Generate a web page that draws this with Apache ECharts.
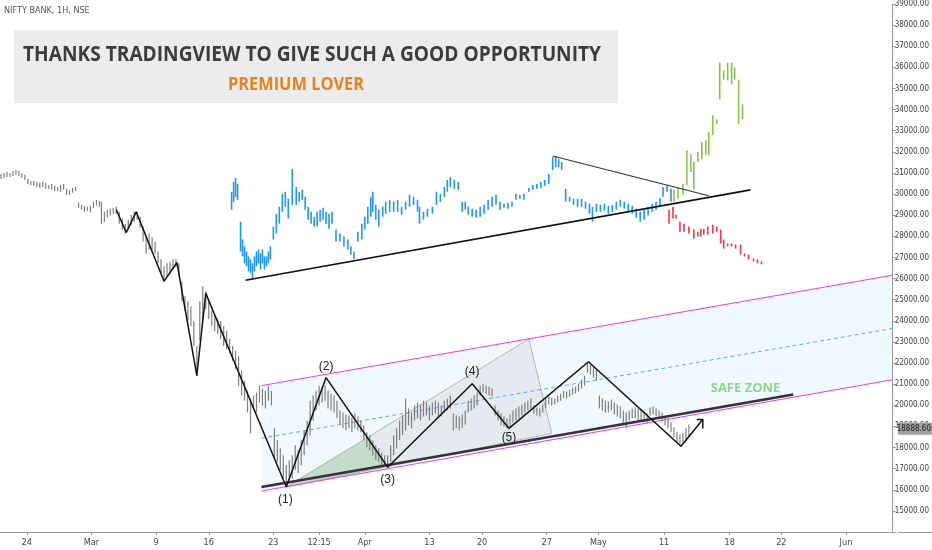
<!DOCTYPE html>
<html><head><meta charset="utf-8">
<script src="https://cdn.jsdelivr.net/npm/echarts@6/dist/echarts.min.js"></script>
<style>html,body{margin:0;padding:0;background:#fff}#c{width:932px;height:550px}</style>
</head><body><div id="c"></div>
<script>
// ---- time axis ticks (time index) ----
const tickPos = [27, 92, 157, 210, 275, 321, 367, 432, 485, 550, 602, 668, 734, 786, 851];
const tickLabels = ['24','Mar','9','16','23','12:15','Apr','13','20','27','May','11','18','22','Jun'];
const lastPrice = 18888.60;

// ---- NIFTY BANK 1H bars: [time, high, low] ----
const greyBars = [
[1,30950,30720],[4,31000,30770],[7,31050,30810],[10,31000,30810],[13,31090,30860],[16,31140,30910],[19,31090,30860],[22,31000,30770],[25,30910,30670],
[28,30720,30480],[31,30620,30430],[34,30620,30390],[37,30580,30340],[40,30530,30290],[43,30580,30340],[46,30530,30250],[49,30430,30250],[52,30480,30200],
[55,30390,30150],[58,30340,30150],[61,30430,30110],[64,30480,30200],[67,30250,29960],[70,30200,29960],[73,30290,30060],[76,30340,30150],
[79,29590,29350],[82,29490,29260],[85,29450,29160],[88,29400,29210],[91,29450,29120],[94,29640,29350],[97,29730,29450],[100,29680,29400],
[102,29640,28600],[105,29160,28690],[108,29260,28880],[111,29310,28980],[114,29350,29070],[117,29400,29070],[120,29160,28600],[123,28830,28320],
[126,28600,28130],[129,28790,28320],[132,29020,28510],[135,29160,28690],[138,29160,28790],[141,28930,28410],[144,28460,27750],[147,27990,27190],
[150,28130,27380],[153,27940,27380],[156,27750,27190],[159,27280,26720],[162,26910,26250],[165,26580,25870],[168,26720,26110],[171,26810,26250],
[174,26910,26440],[177,26910,26530],[180,26720,26110],[183,25870,24930],[186,25160,24460],[189,24930,23990],[192,24690,23750],[195,23990,22810],
[198,22810,21400],[201,24930,23050],[204,25640,23990],[207,25400,24550],[210,24930,24080],[213,24460,23750],[216,24220,23520],[219,24080,23380],
[222,23990,23140],[225,23750,22810],[228,23520,22670],[231,23140,22480],[234,22810,22110],[237,22580,21730],[240,22340,20930],[243,21640,20460],
[246,21160,20220],[249,20690,19660],[252,20320,18670],[255,20460,19750],[258,20600,19660],[261,20930,20130],[264,20790,19990],[267,20690,19850],
[270,20930,20220],[273,20690,19990],[276,18910,17490],[279,18340,17310],[282,17960,16930],[285,17630,16550],[288,17160,16130],[291,17400,16460],
[294,17630,16550],[297,18110,16930],[300,17870,16790],[303,18340,17160],[306,18810,17630],[309,19280,18110],[312,20220,18580],[315,20460,19280],
[318,20690,19750],[321,20930,19990],[324,20830,20130],[327,20930,20220],[330,20690,19850],[333,20550,19750],[336,20460,19660],[339,20220,19380],
[342,19750,19050],[345,19660,18910],[348,19560,18810],[351,19520,18910],[354,19420,18720],[357,19610,18910],[360,19470,18810],[363,19280,18720],
[366,19050,18340],[369,18720,18010],[372,18580,17870],[375,18340,17630],[378,18110,17400],[381,17960,17310],[384,17770,17120],[387,17630,17120],
[390,17630,17070],[393,18110,17310],[396,18580,17630],[399,18910,17960],[402,19280,18340],[405,19520,18580],[408,20320,18810],[411,19850,19050],
[414,19660,18910],[417,19990,19280],[420,20130,19380],[423,20040,19280],[426,20220,19470],[429,20130,19520],[432,19990,19280],[435,20130,19520],
[438,20220,19610],[441,20130,19380],[444,19990,19470],[447,20220,19660],[450,20320,19750],[453,20460,19850],[456,19610,18810],[459,19520,18910],
[462,19470,18810],[465,19560,18910],[468,19750,19090],[471,20220,19660],[474,20320,19750],[477,20460,19850],[480,20600,19990],[483,20930,20460],
[486,21020,20600],[489,20930,20550],[492,20880,20460],[495,20790,20410],[498,19990,19520],[501,19750,19280],[504,19610,19050],[507,19470,19000],
[510,19380,18910],[513,19560,19000],[516,19750,19190],[519,19850,19280],[522,19940,19380],[525,20040,19520],[528,20130,19660],[531,20220,19750],
[534,20320,19850],[537,19990,19610],[540,19890,19520],[543,19850,19470],[546,20040,19660],[549,20320,19850],[552,20410,20040],[555,20360,19990],
[558,20320,20040],[561,20460,20130],[564,20550,20220],[567,20690,20360],[570,20650,20320],[573,20740,20410],[576,20830,20500],[579,20880,20550],
[582,21020,20650],[585,21210,20790],[588,21400,20930],[591,22010,21540],[594,21920,21450],[597,21820,21310],[600,21730,21160],[603,20460,19850],
[606,20320,19750],[609,20220,19660],[612,20180,19660],[615,20270,19750],[618,20130,19560],[621,20040,19470],[624,19940,19380],[627,19750,19050],
[630,19660,18910],[633,19750,19280],[636,19850,19380],[639,19890,19380],[642,19850,19280],[645,19800,19280],[648,19710,19190],[651,19610,19140],
[654,19890,19520],[657,19940,19560],[660,19850,19470],[663,19750,19380],[666,19660,19280],[669,19470,19050],[672,19380,18910],[675,19190,18720],
[678,18960,18480],[681,18720,18250],[684,18620,18150],[687,18670,18250],[690,18910,18340],[693,19090,18530]
];

// ---- comparison (blue) bars: [time, high, low] ----
const blueBars = [
[233,30110,29260],[235,30580,29640],[237,30770,29870],[239,30480,29730],[242,28690,27280],[244,27850,27050],[246,27520,26720],[248,27280,26580],
[250,27050,26340],[252,26910,26250],[254,26720,25960],[256,27050,26340],[258,27280,26580],[260,27380,26720],[262,27190,26440],[264,27380,26720],
[266,27050,26440],[268,27050,26580],[270,27280,26720],[272,27520,26910],[275,28460,27850],[278,29070,28130],[281,29400,28600],[284,30010,29160],
[287,30110,29400],[290,29780,28840],[294,31190,29490],[298,30340,29490],[301,30110,29640],[304,30200,29730],[307,29870,29260],[310,29400,28790],
[313,29160,28600],[316,28930,28460],[319,29160,28460],[322,29260,28690],[325,29350,28790],[328,29160,28600],[331,29070,28360],[334,29160,28600],
[338,28320,27750],[342,28130,27750],[346,27990,27520],[350,27850,27380],[353,27520,27140],[356,27280,26910],[360,28220,27750],[364,28600,27850],
[367,28930,28320],[370,29400,28600],[373,29870,28930],[375,30110,29160],[378,29490,28790],[381,29260,28460],[385,29400,28930],[388,29640,29070],
[392,29730,29160],[396,29640,29160],[400,29730,29160],[404,29400,29020],[408,29640,29260],[412,29970,29400],[416,29870,29490],[420,29730,29160],
[422,29400,28600],[426,29160,28790],[430,29310,28930],[435,29400,29070],[439,30110,29490],[443,30010,29640],[447,30340,29870],[450,30670,30110],
[453,30810,30340],[457,30670,30250],[461,30580,30200],[465,29640,29160],[468,29640,29260],[471,29400,29020],[475,29310,28930],[479,29260,28880],
[483,29400,28930],[487,29490,29070],[491,29730,29260],[495,29870,29400],[499,29970,29490],[503,29640,29260],[507,29540,29350],[511,29590,29310],
[515,29640,29400],[519,30010,29730],[523,29970,29780],[527,30010,29730],[532,30290,30110],[536,30430,30200],[540,30480,30250],[544,30580,30290],
[548,30670,30390],[552,30950,30480],[556,31750,31140],[559,31800,31280],[562,31660,31280],[565,31520,31140],[569,30250,29640],[573,29870,29640],
[577,29780,29490],[581,29780,29400],[585,29780,29400],[589,29640,29310],[593,29540,29070],[596,29400,28690],[600,29540,29160],[604,29490,29160],
[608,29540,29210],[612,29450,29070],[616,29490,29160],[620,29640,29260],[624,29730,29400],[628,29640,29310],[632,29540,29160],[636,29450,29070],
[640,29310,28880],[644,29160,28690],[648,29260,28790],[652,29400,28980],[656,29540,29160],[660,29640,29260],[664,29820,29400],[667,30340,29870],
[671,30430,30110],[675,30250,29640]
];

// ---- bullish projection (green) bars ----
const greenBars = [
[678,30200,29640],[682,30340,29780],[687,30480,29960],[691,32080,30440],[695,31890,31050],[698,31520,30200],[702,31990,31520],[706,32460,31660],
[710,32550,31850],[713,32930,31850],[717,33730,32790],[721,33540,33310],[724,36220,34480],[728,35850,35420],[732,36220,35380],[736,36220,35190],
[739,35990,35420],[743,35420,33310],[747,34250,33540]
];

// ---- bearish projection (red) bars ----
const redBars = [
[673,29260,28600],[677,29400,28840],[680,29020,28840],[684,28690,28220],[688,28600,28220],[693,28460,28130],[698,28320,27900],[702,28220,27990],
[705,28360,27990],[708,28360,28080],[712,28460,28080],[717,28550,28130],[721,28460,28220],[725,28320,27660],[728,27850,27420],[732,27660,27520],
[736,27660,27520],[740,27610,27420],[745,27610,27140],[749,27190,27050],[753,27140,26910],[758,26950,26810],[762,26910,26720],[766,26810,26670]
];

// ---- drawings ----
const zigX = [117,127,137,165,178,198,207,288,328,390,475,512,592,685,707];
const zigY = [29260,28180,29160,25870,26760,21400,25300,16130,21310,17070,21020,18910,22060,18060,19330];
const arrowX = [701,707,707];
const arrowY = [19330,19330,18900];
const chanX = [263,898];
const chanUpper = [20930,26160];
const chanLower = [15940,21210];
const chanMid = [18440,23640];
const supX = [263,798];
const supY = [16130,20510];
const insetSupX = [247,755];
const insetSupY = [25920,30200];
const insetResX = [556,713];
const insetResY = [31800,29920];
const fanX = [288,532,555];
const fanY = [16130,23140,18670];
const greenX = [288,372,390];
const greenY = [16130,18530,17070];
const waveX = [287,328,390,475,512];
const waveY = [15520,21820,16460,21590,18480];
const waveText = ['(1)','(2)','(3)','(4)','(5)'];
const safeX = [750];
const safeY = [20790];
const safeText = ['SAFE ZONE'];

const zip = (a,b)=>a.map((v,i)=>[v,b[i]]);
const NARROW = '"Liberation Sans Narrow","DejaVu Sans Condensed",sans-serif';

function barSeries(data, color, width, z){
  return {type:'custom', data, z, silent:true, encode:{x:0,y:[1,2]},
    renderItem:(p,api)=>{
      const a=api.coord([api.value(0),api.value(1)]), b=api.coord([api.value(0),api.value(2)]);
      return {type:'line', shape:{x1:a[0],y1:a[1],x2:b[0],y2:b[1]}, style:{stroke:color,lineWidth:width}};
    }};
}
function polySeries(pts, fill, stroke, z){
  return {type:'custom', data:pts, z, silent:true, encode:{x:0,y:1},
    renderItem:(p,api)=>{
      if(p.dataIndex!==0) return null;
      return {type:'polygon', shape:{points:pts.map(q=>api.coord(q))}, style:{fill, stroke:stroke||null, lineWidth:1}};
    }};
}
function lineSeries(xs, ys, color, width, type, z){
  return {type:'line', data:zip(xs,ys), symbol:'none', silent:true, z,
    lineStyle:{color, width, type:type||'solid'}};
}
function textSeries(xs, ys, texts, font, color, z){
  return {type:'custom', data:zip(xs,ys), z, silent:true, encode:{x:0,y:1},
    renderItem:(p,api)=>{
      const c=api.coord([api.value(0),api.value(1)]);
      return {type:'text', x:c[0], y:c[1], style:{text:texts[p.dataIndex], font, fill:color, align:'center', verticalAlign:'middle'}};
    }};
}

const chanPoly = [[chanX[0],chanUpper[0]],[chanX[1],chanUpper[1]],[chanX[1],chanLower[1]],[chanX[0],chanLower[0]]];

function measure(text, font){
  const c=document.createElement('canvas').getContext('2d'); c.font=font; return c.measureText(text).width;
}
const titleText='THANKS TRADINGVIEW TO GIVE SUCH A GOOD OPPORTUNITY';
const titleFont='bold 22px "Open Sans", sans-serif';
const subText='PREMIUM LOVER';
const subFont='bold 17px "Open Sans", sans-serif';
const titleScale = 578/measure(titleText,titleFont);
const subScale = 136/measure(subText,subFont);

const chart = echarts.init(document.getElementById('c'), null, {renderer:'canvas'});
const baseGraphic = [
  {type:'text', x:4, y:11, style:{text:'NIFTY BANK, 1H, NSE', font:'9px '+NARROW, fill:'#555', verticalAlign:'middle'}},
  {type:'rect', shape:{x:14,y:30,width:604,height:73}, style:{fill:'#ececec'}, z:10},
  {type:'text', x:312, y:55, scaleX:titleScale, z:11, style:{text:titleText, font:titleFont, fill:'#3c3c3c', align:'center', verticalAlign:'middle'}},
  {type:'text', x:296, y:85, scaleX:subScale, z:11, style:{text:subText, font:subFont, fill:'#e8821e', align:'center', verticalAlign:'middle'}},
  {type:'line', shape:{x1:898,y1:532.5,x2:932,y2:532.5}, style:{stroke:'#9a9a9a', lineWidth:1}}
];
const option = {
  animation:false,
  backgroundColor:'#ffffff',
  grid:{left:0, right:34, top:2, bottom:18, containLabel:false},
  xAxis:{type:'value', min:0, max:898, position:'bottom',
    axisLine:{show:true, onZero:false, lineStyle:{color:'#9a9a9a', width:1}},
    axisTick:{show:true, length:3, customValues:tickPos, lineStyle:{color:'#9a9a9a'}},
    axisLabel:{customValues:tickPos, color:'#444', fontSize:9, fontFamily:NARROW, margin:6,
      formatter:v=>{const i=tickPos.indexOf(Math.round(v)); return i>=0?tickLabels[i]:'';}},
    splitLine:{show:false}},
  yAxis:{type:'value', position:'right', min:14000, max:39000, interval:1000,
    axisLine:{show:true, onZero:false, lineStyle:{color:'#9a9a9a', width:1}},
    axisTick:{show:true, length:3, inside:false, lineStyle:{color:'#9a9a9a'}},
    axisLabel:{color:'#444', fontSize:8, fontFamily:NARROW, margin:2,
      formatter:v=> v<=14000 ? '' : v.toFixed(2)},
    splitLine:{show:false}},
  series:[
    polySeries(chanPoly, 'rgba(33,150,243,0.06)', null, 1),
    polySeries(zip(fanX,fanY), 'rgba(120,120,120,0.11)', '#b5b5b5', 2),
    polySeries(zip(greenX,greenY), 'rgba(76,175,80,0.22)', null, 3),
    lineSeries(chanX, chanUpper, '#e040fb', 1, 'solid', 4),
    lineSeries(chanX, chanLower, '#e040fb', 1, 'solid', 4),
    lineSeries(chanX, chanMid, '#5aaee8', 1, [4,3], 4),
    barSeries(greyBars, '#7e7e7e', 1.2, 5),
    barSeries(blueBars, '#2196f3', 1.6, 5),
    barSeries(greenBars, '#8bc34a', 1.6, 5),
    barSeries(redBars, '#f23645', 1.6, 5),
    lineSeries(supX, supY, '#333333', 2.6, 'solid', 6),
    lineSeries(insetSupX, insetSupY, '#111111', 1.6, 'solid', 6),
    lineSeries(insetResX, insetResY, '#333333', 1.1, 'solid', 6),
    lineSeries(zigX, zigY, '#111111', 1.5, 'solid', 7),
    lineSeries(arrowX, arrowY, '#111111', 1.5, 'solid', 7),
    textSeries(waveX, waveY, waveText, '12px "Liberation Sans", sans-serif', '#222', 8),
    textSeries(safeX, safeY, safeText, 'bold 13px "Open Sans", sans-serif', '#8fd68f', 8)
  ],
  graphic: baseGraphic
};
chart.setOption(option);
const py = chart.convertToPixel({yAxisIndex:0}, lastPrice);
chart.setOption({graphic: baseGraphic.concat([
  {type:'rect', shape:{x:898,y:py-6,width:34,height:12}, style:{fill:'#9e9e9e'}, z:20},
  {type:'text', x:931, y:py, z:21, style:{text:lastPrice.toFixed(2), font:'8px '+NARROW, fill:'#222', align:'right', verticalAlign:'middle'}}
])}, {replaceMerge:['graphic']});
</script>
</body></html>
